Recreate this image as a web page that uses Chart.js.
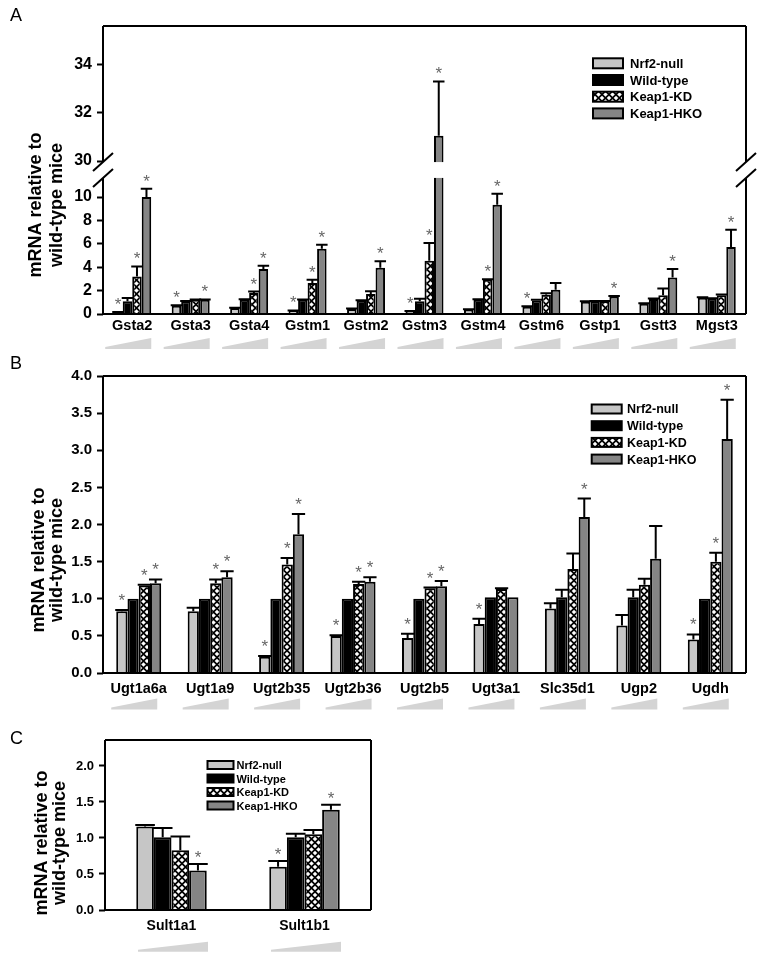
<!DOCTYPE html>
<html>
<head>
<meta charset="utf-8">
<script src="https://cdn.jsdelivr.net/npm/chart.js@4.4.1/dist/chart.umd.min.js"></script>
<style>
  body { margin: 0; background: #fff; }
  #figure { position: relative; width: 760px; height: 955px; font-family: 'Liberation Sans', Arial, sans-serif; }
  #figure canvas { position: absolute; left: 0; }
  .panel-letter { position: absolute; left: 10px; font-size: 18px; line-height: 20px; color: #000; }
</style>
</head>
<body>
<div id="figure">
  <canvas id="chartA" width="760" height="360" style="top:0px"></canvas>
  <canvas id="chartB" width="760" height="360" style="top:360px"></canvas>
  <canvas id="chartC" width="760" height="235" style="top:720px"></canvas>
  <div class="panel-letter" style="top:5px">A</div>
  <div class="panel-letter" style="top:353px">B</div>
  <div class="panel-letter" style="top:728px">C</div>
</div>

<script>
// ---------------- data ----------------
const seriesNames = ['Nrf2-null', 'Wild-type', 'Keap1-KD', 'Keap1-HKO'];

// Panel A - GSTs (broken y axis)
const genesA = ['Gsta2', 'Gsta3', 'Gsta4', 'Gstm1', 'Gstm2', 'Gstm3', 'Gstm4', 'Gstm6', 'Gstp1', 'Gstt3', 'Mgst3'];
const nrf2A    = [0.15, 0.71, 0.51, 0.28, 0.43, 0.23, 0.37, 0.62, 1.05, 0.88, 1.39];
const nrf2ErrA = [0.03, 0.04, 0.03, 0.02, 0.03, 0.02, 0.03, 0.05, 0.03, 0.04, 0.05];
const wtA      = [1.08, 1.08, 1.22, 1.22, 1.14, 1.08, 1.22, 1.16, 1.08, 1.28, 1.30];
const wtErrA   = [0.29, 0.03, 0.04, 0.03, 0.04, 0.22, 0.04, 0.05, 0.03, 0.05, 0.04];
const kdA      = [3.20, 1.22, 1.80, 2.65, 1.70, 4.55, 2.93, 1.65, 1.08, 1.60, 1.60];
const kdErrA   = [0.87, 0.03, 0.12, 0.28, 0.25, 1.52, 0.05, 0.12, 0.03, 0.57, 0.06];
const hkoA     = [10.0, 1.22, 3.85, 5.58, 3.96, 31.05, 9.34, 2.08, 1.50, 3.13, 5.73];
const hkoErrA  = [0.70, 0.03, 0.28, 0.35, 0.54, 2.25, 0.94, 0.57, 0.04, 0.72, 1.47];
const nrf2StarA = [1, 1, 0, 1, 0, 1, 0, 1, 0, 0, 0];
const wtStarA   = [0, 0, 0, 0, 0, 0, 0, 0, 0, 0, 0];
const kdStarA   = [1, 0, 1, 1, 0, 1, 1, 0, 0, 0, 0];
const hkoStarA  = [1, 1, 1, 1, 1, 1, 1, 0, 1, 1, 1];
const yTicksA = [0, 2, 4, 6, 8, 10, 30, 32, 34];

// Panel B - UGTs and UDP-glucuronic acid synthesis
const genesB = ['Ugt1a6a', 'Ugt1a9', 'Ugt2b35', 'Ugt2b36', 'Ugt2b5', 'Ugt3a1', 'Slc35d1', 'Ugp2', 'Ugdh'];
const nrf2B    = [0.83, 0.83, 0.22, 0.50, 0.47, 0.66, 0.87, 0.64, 0.45];
const nrf2ErrB = [0.02, 0.05, 0.01, 0.01, 0.06, 0.07, 0.07, 0.14, 0.07];
const wtB      = [1.00, 1.00, 1.00, 1.00, 1.00, 1.02, 1.02, 1.02, 1.00];
const wtErrB   = [0, 0, 0, 0, 0, 0, 0.10, 0.10, 0];
const kdB      = [1.18, 1.21, 1.46, 1.20, 1.14, 1.13, 1.40, 1.19, 1.50];
const kdErrB   = [0.01, 0.05, 0.09, 0.03, 0.01, 0.01, 0.21, 0.08, 0.12];
const hkoB     = [1.21, 1.29, 1.87, 1.23, 1.17, 1.02, 2.10, 1.54, 3.15];
const hkoErrB  = [0.05, 0.08, 0.27, 0.06, 0.07, 0, 0.25, 0.44, 0.53];
const nrf2StarB = [1, 0, 1, 1, 1, 1, 0, 0, 1];
const wtStarB   = [0, 0, 0, 0, 0, 0, 0, 0, 0];
const kdStarB   = [1, 1, 1, 1, 1, 0, 0, 0, 1];
const hkoStarB  = [1, 1, 1, 1, 1, 0, 1, 0, 1];
const yTicksB = [0, 0.5, 1, 1.5, 2, 2.5, 3, 3.5, 4];

// Panel C - SULTs
const genesC = ['Sult1a1', 'Sult1b1'];
const nrf2C    = [1.16, 0.60];
const nrf2ErrC = [0.02, 0.08];
const wtC      = [1.01, 1.01];
const wtErrC   = [0.13, 0.05];
const kdC      = [0.83, 1.05];
const kdErrC   = [0.19, 0.06];
const hkoC     = [0.55, 1.39];
const hkoErrC  = [0.09, 0.07];
const nrf2StarC = [0, 1];
const wtStarC   = [0, 0];
const kdStarC   = [0, 0];
const hkoStarC  = [1, 1];
const yTicksC = [0, 0.5, 1, 1.5, 2];

// ---------------- styling ----------------
const FONT = "'Liberation Sans', Arial, sans-serif";
const fillNrf2 = '#c6c6c6';
const fillWT = '#000000';
const fillHKO = '#858585';

// y axis break of panel A (lower part 0..11.55, upper part 30..top)
const breakA = { lowerMax: 11.55, upperMin: 30, lowerFrac: 0.469, upperFrac: 0.469 };

const LinearScale = Chart.LinearScale || Chart.registry.getScale('linear');
class BrokenLinearScale extends LinearScale {
  toFraction(v) {
    const b = breakA;
    const gap = 1 - b.lowerFrac - b.upperFrac;
    if (v <= b.lowerMax) return v / b.lowerMax * b.lowerFrac;
    if (v >= b.upperMin) return b.lowerFrac + gap + (v - b.upperMin) / (this.max - b.upperMin) * b.upperFrac;
    return b.lowerFrac + (v - b.lowerMax) / (b.upperMin - b.lowerMax) * gap;
  }
  getPixelForValue(v) {
    if (v === null || v === undefined || isNaN(v)) return NaN;
    return this.getPixelForDecimal(this.toFraction(v));
  }
  getValueForPixel(p) {
    const b = breakA;
    const f = (this.bottom - p) / (this.bottom - this.top);
    const gap = 1 - b.lowerFrac - b.upperFrac;
    if (f <= b.lowerFrac) return f / b.lowerFrac * b.lowerMax;
    if (f >= b.lowerFrac + gap) return b.upperMin + (f - b.lowerFrac - gap) / b.upperFrac * (this.max - b.upperMin);
    return b.lowerMax + (f - b.lowerFrac) / gap * (b.upperMin - b.lowerMax);
  }
}
BrokenLinearScale.id = 'brokenLinear';
BrokenLinearScale.defaults = {};
Chart.register(BrokenLinearScale);

// black bar with white diamonds (Keap1-KD)
function diamondPattern(ctx) {
  const c = document.createElement('canvas');
  c.width = 7; c.height = 7;
  const g = c.getContext('2d');
  g.fillStyle = '#000';
  g.fillRect(0, 0, 7, 7);
  g.fillStyle = '#fff';
  const d = (x, y, r) => {
    g.beginPath();
    g.moveTo(x, y - r); g.lineTo(x + r, y); g.lineTo(x, y + r); g.lineTo(x - r, y);
    g.closePath(); g.fill();
  };
  [[3.5, 3.5], [0, 0], [7, 0], [0, 7], [7, 7]].forEach(p => d(p[0], p[1], 2.3));
  return ctx.createPattern(c, 'repeat');
}

function buildDatasets(canvas, values, errors, stars) {
  const fills = [fillNrf2, fillWT, diamondPattern(canvas.getContext('2d')), fillHKO];
  return seriesNames.map((name, s) => ({
    label: name,
    data: values[s],
    errors: errors[s],
    stars: stars[s],
    backgroundColor: fills[s],
    borderColor: '#000',
    borderWidth: 2
  }));
}

// error bars, significance stars, frame, wedges, legend and y title
function decorPlugin(cfg) {
  return {
    id: 'decor',
    afterDatasetsDraw(chart) {
      const { ctx, chartArea: a } = chart;
      const x = chart.scales.x, y = chart.scales.y;
      ctx.save();

      // upper error whiskers
      ctx.strokeStyle = '#000';
      ctx.lineWidth = 2;
      const starPts = [];
      chart.data.datasets.forEach((ds, di) => {
        chart.getDatasetMeta(di).data.forEach((bar, i) => {
          const top = y.getPixelForValue(ds.data[i] + ds.errors[i]);
          if (ds.errors[i] > 0) {
            const half = bar.width / 2 + 1;
            ctx.beginPath();
            ctx.moveTo(bar.x, bar.y);
            ctx.lineTo(bar.x, top);
            ctx.moveTo(bar.x - half, top);
            ctx.lineTo(bar.x + half, top);
            ctx.stroke();
          }
          if (ds.stars[i]) starPts.push([bar.x, top - cfg.starGap]);
        });
      });

      // frame (with break on panel A)
      ctx.lineWidth = 2;
      ctx.beginPath();
      ctx.moveTo(a.left, a.top); ctx.lineTo(a.right, a.top);
      ctx.moveTo(a.left, a.bottom); ctx.lineTo(a.right, a.bottom);
      if (cfg.broken) {
        const yHi = y.getPixelForValue(breakA.upperMin) + 1;
        const yLo = y.getPixelForValue(breakA.lowerMax) - 1;
        ctx.fillStyle = '#fff';
        ctx.fillRect(a.left + 1, yHi, a.right - a.left - 2, yLo - yHi);
        [a.left, a.right].forEach(xx => {
          ctx.moveTo(xx, a.top); ctx.lineTo(xx, yHi);
          ctx.moveTo(xx, yLo); ctx.lineTo(xx, a.bottom);
          ctx.moveTo(xx - 10, yHi + 9); ctx.lineTo(xx + 10, yHi - 9);
          ctx.moveTo(xx - 10, yLo + 9); ctx.lineTo(xx + 10, yLo - 9);
        });
      } else {
        ctx.moveTo(a.left, a.top); ctx.lineTo(a.left, a.bottom);
        ctx.moveTo(a.right, a.top); ctx.lineTo(a.right, a.bottom);
      }
      ctx.stroke();

      // stars
      ctx.fillStyle = '#666';
      ctx.font = '17px ' + FONT;
      ctx.textAlign = 'center';
      ctx.textBaseline = 'alphabetic';
      starPts.forEach(p => ctx.fillText('*', p[0], p[1] + 10));

      // gray wedges below category labels
      const w = cfg.wedge;
      ctx.fillStyle = '#d4d4d4';
      chart.data.labels.forEach((lab, i) => {
        const cx = x.getPixelForValue(i) + w.dx;
        const yb = a.bottom + w.offset;
        ctx.beginPath();
        ctx.moveTo(cx - w.width / 2, yb - w.hLeft);
        ctx.lineTo(cx + w.width / 2, yb - w.hRight);
        ctx.lineTo(cx + w.width / 2, yb);
        ctx.lineTo(cx - w.width / 2, yb);
        ctx.closePath();
        ctx.fill();
      });

      // legend
      const L = cfg.legend;
      ctx.font = 'bold ' + L.font + 'px ' + FONT;
      ctx.textAlign = 'left';
      ctx.textBaseline = 'middle';
      chart.data.datasets.forEach((ds, di) => {
        const cy = L.y + di * L.gap;
        ctx.fillStyle = ds.backgroundColor;
        ctx.fillRect(L.x, cy - L.h / 2, L.w, L.h);
        ctx.strokeStyle = '#000';
        ctx.lineWidth = 2;
        ctx.strokeRect(L.x, cy - L.h / 2, L.w, L.h);
        ctx.fillStyle = '#000';
        ctx.fillText(ds.label, L.textX, cy + 1);
      });

      // y axis title (two lines, rotated)
      const T = cfg.title;
      ctx.save();
      ctx.translate(T.x1, T.cy);
      ctx.rotate(-Math.PI / 2);
      ctx.font = 'bold 18px ' + FONT;
      ctx.textAlign = 'center';
      ctx.textBaseline = 'middle';
      ctx.fillStyle = '#000';
      ctx.fillText('mRNA relative to', 0, 0);
      ctx.fillText('wild-type mice', 0, T.x2 - T.x1);
      ctx.restore();

      ctx.restore();
    }
  };
}

function makeChart(id, labels, values, errors, stars, opt) {
  const canvas = document.getElementById(id);
  return new Chart(canvas, {
    type: 'bar',
    data: { labels: labels, datasets: buildDatasets(canvas, values, errors, stars) },
    options: {
      responsive: false,
      animation: false,
      layout: { padding: opt.padding },
      datasets: { bar: { categoryPercentage: opt.catPct, barPercentage: 1 } },
      scales: {
        x: {
          grid: { display: false, drawTicks: false },
          border: { display: false },
          ticks: {
            color: '#000', padding: opt.xPad, autoSkip: false, maxRotation: 0,
            font: { family: FONT, size: opt.xFont, weight: 'bold' }
          },
          afterFit: s => { s.height = opt.xHeight; }
        },
        y: {
          type: opt.yType,
          min: 0,
          max: opt.yMax,
          grid: { drawOnChartArea: false, drawTicks: true, tickLength: 6, tickWidth: 2, tickColor: '#000' },
          border: { display: false },
          ticks: {
            color: '#000', padding: 5, autoSkip: false,
            font: { family: FONT, size: opt.yFont, weight: 'bold' },
            callback: opt.fmt
          },
          afterBuildTicks: s => { s.ticks = opt.yTicks.map(v => ({ value: v })); },
          afterFit: s => { s.width = opt.yWidth; }
        }
      },
      plugins: { legend: { display: false }, tooltip: { enabled: false } }
    },
    plugins: [decorPlugin(opt)]
  });
}

makeChart('chartA', genesA,
  [nrf2A, wtA, kdA, hkoA], [nrf2ErrA, wtErrA, kdErrA, hkoErrA], [nrf2StarA, wtStarA, kdStarA, hkoStarA], {
    padding: { top: 26, right: 14, left: 0, bottom: 0 },
    catPct: 0.65, xPad: 3, xFont: 14.5, xHeight: 46,
    yType: 'brokenLinear', yMax: 35.6, yTicks: yTicksA, yFont: 16, yWidth: 103,
    fmt: v => String(v),
    broken: true, starGap: 12,
    wedge: { width: 46, dx: -4, offset: 35, hLeft: 2, hRight: 11 },
    legend: { x: 593, y: 63.3, gap: 16.7, w: 30, h: 10, textX: 630, font: 13 },
    title: { x1: 36.5, x2: 56.7, cy: 205 }
  });

makeChart('chartB', genesB,
  [nrf2B, wtB, kdB, hkoB], [nrf2ErrB, wtErrB, kdErrB, hkoErrB], [nrf2StarB, wtStarB, kdStarB, hkoStarB], {
    padding: { top: 16, right: 14, left: 0, bottom: 0 },
    catPct: 0.63, xPad: 7, xFont: 14.5, xHeight: 47,
    yType: 'linear', yMax: 4, yTicks: yTicksB, yFont: 15, yWidth: 103,
    fmt: v => v.toFixed(1),
    broken: false, starGap: 14,
    wedge: { width: 46, dx: -4.5, offset: 36.6, hLeft: 2, hRight: 11 },
    legend: { x: 591.7, y: 49, gap: 16.7, w: 30, h: 9, textX: 627, font: 12.5 },
    title: { x1: 39, x2: 57.5, cy: 200 }
  });

makeChart('chartC', genesC,
  [nrf2C, wtC, kdC, hkoC], [nrf2ErrC, wtErrC, kdErrC, hkoErrC], [nrf2StarC, wtStarC, kdStarC, hkoStarC], {
    padding: { top: 20, right: 389, left: 0, bottom: 0 },
    catPct: 0.53, xPad: 8, xFont: 14, xHeight: 45,
    yType: 'linear', yMax: 2.36, yTicks: yTicksC, yFont: 13, yWidth: 105,
    fmt: v => v.toFixed(1),
    broken: false, starGap: 11,
    wedge: { width: 70, dx: 1.5, offset: 41.7, hLeft: 2, hRight: 10 },
    legend: { x: 207.5, y: 45, gap: 13.5, w: 26, h: 8, textX: 236.5, font: 11 },
    title: { x1: 42.5, x2: 60, cy: 123 }
  });
</script>
</body>
</html>
